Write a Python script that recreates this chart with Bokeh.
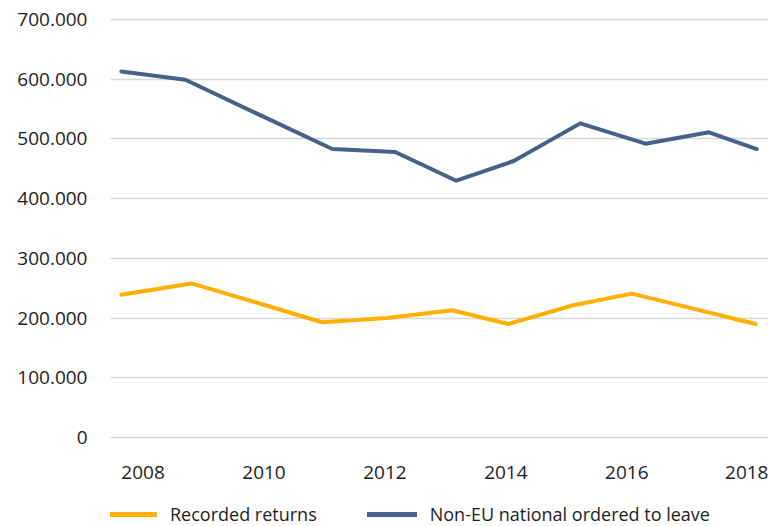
from bokeh.plotting import figure
from bokeh.layouts import column
from bokeh.models import Range1d, FixedTicker, CustomJSTickFormatter, Legend, LegendItem
from bokeh.embed import file_html
from bokeh.resources import INLINE

# Tick positions
year_ticks = [2008, 2010, 2012, 2014, 2016, 2018]
value_ticks = [0, 100000, 200000, 300000, 400000, 500000, 600000, 700000]

# Series (x positions, in years)
returns_x = [2007.64, 2008.80, 2009.94, 2010.96, 2012.04, 2013.11, 2014.04, 2015.10, 2016.08, 2017.05, 2018.13]
returns_y = [239000, 258000, 224000, 193000, 200000, 213000, 190000, 221000, 241000, 217000, 190000]

ordered_x = [2007.64, 2008.70, 2009.91, 2011.13, 2012.17, 2013.18, 2014.13, 2015.23, 2016.31, 2017.36, 2018.15]
ordered_y = [613000, 599000, 541000, 483000, 478000, 430000, 463000, 526000, 492000, 511000, 483000]

series_names = ["Recorded returns", "Non-EU national ordered to leave"]
series_colors = ["#FFB000", "#46628B"]

FONT = "Open Sans"
TXT = "#1e1e1e"

p = figure(width=768, height=488, output_backend="svg", toolbar_location=None,
           x_range=Range1d(2007.461, 2018.344), y_range=Range1d(-10000, 715000),
           min_border_left=110, min_border_right=0, min_border_top=10, min_border_bottom=45)
p.outline_line_color = None
p.background_fill_color = "white"
p.border_fill_color = "white"

r1 = p.line(returns_x, returns_y, line_color=series_colors[0], line_width=4,
            line_join="round", line_cap="round")
r2 = p.line(ordered_x, ordered_y, line_color=series_colors[1], line_width=4,
            line_join="round", line_cap="round")

p.xgrid.visible = False
p.ygrid.grid_line_color = "#d9d9d9"
p.ygrid.grid_line_width = 1.5
p.ygrid.ticker = FixedTicker(ticks=value_ticks)

for ax in (p.xaxis[0], p.yaxis[0]):
    ax.axis_line_color = None
    ax.major_tick_line_color = None
    ax.minor_tick_line_color = None
    ax.major_label_text_font = FONT
    ax.major_label_text_font_size = "19px"
    ax.major_label_text_color = TXT

p.xaxis[0].ticker = FixedTicker(ticks=year_ticks)
p.xaxis[0].major_label_standoff = 16
p.yaxis[0].ticker = FixedTicker(ticks=value_ticks)
p.yaxis[0].major_label_standoff = 17
p.yaxis[0].formatter = CustomJSTickFormatter(
    code="return Math.round(tick).toString().replace(/\\B(?=(\\d{3})+(?!\\d))/g, '.');")

# Legend strip below the chart (its lines lie outside its own view; only the legend shows)
lg = figure(width=768, height=38, output_backend="svg", toolbar_location=None,
            x_range=Range1d(0, 1), y_range=Range1d(0, 1),
            x_axis_location=None, y_axis_location=None,
            min_border_left=0, min_border_right=0, min_border_top=0, min_border_bottom=0)
lg.outline_line_color = None
lg.grid.visible = False
l1 = lg.line(returns_x, returns_y, line_color=series_colors[0], line_width=5, line_cap="round")
l2 = lg.line(ordered_x, ordered_y, line_color=series_colors[1], line_width=5, line_cap="round")

legend = Legend(items=[LegendItem(label=series_names[0], renderers=[l1]),
                       LegendItem(label=series_names[1], renderers=[l2])],
                location=(-3, 0), orientation="horizontal",
                glyph_width=50, glyph_height=20, label_standoff=13, spacing=50,
                padding=0, margin=0, border_line_color=None, background_fill_alpha=0,
                label_text_font=FONT, label_text_font_size="18px", label_text_color=TXT)
lg.add_layout(legend)

layout = column(p, lg, spacing=0)
open("out.html", "w").write(file_html(layout, INLINE))
